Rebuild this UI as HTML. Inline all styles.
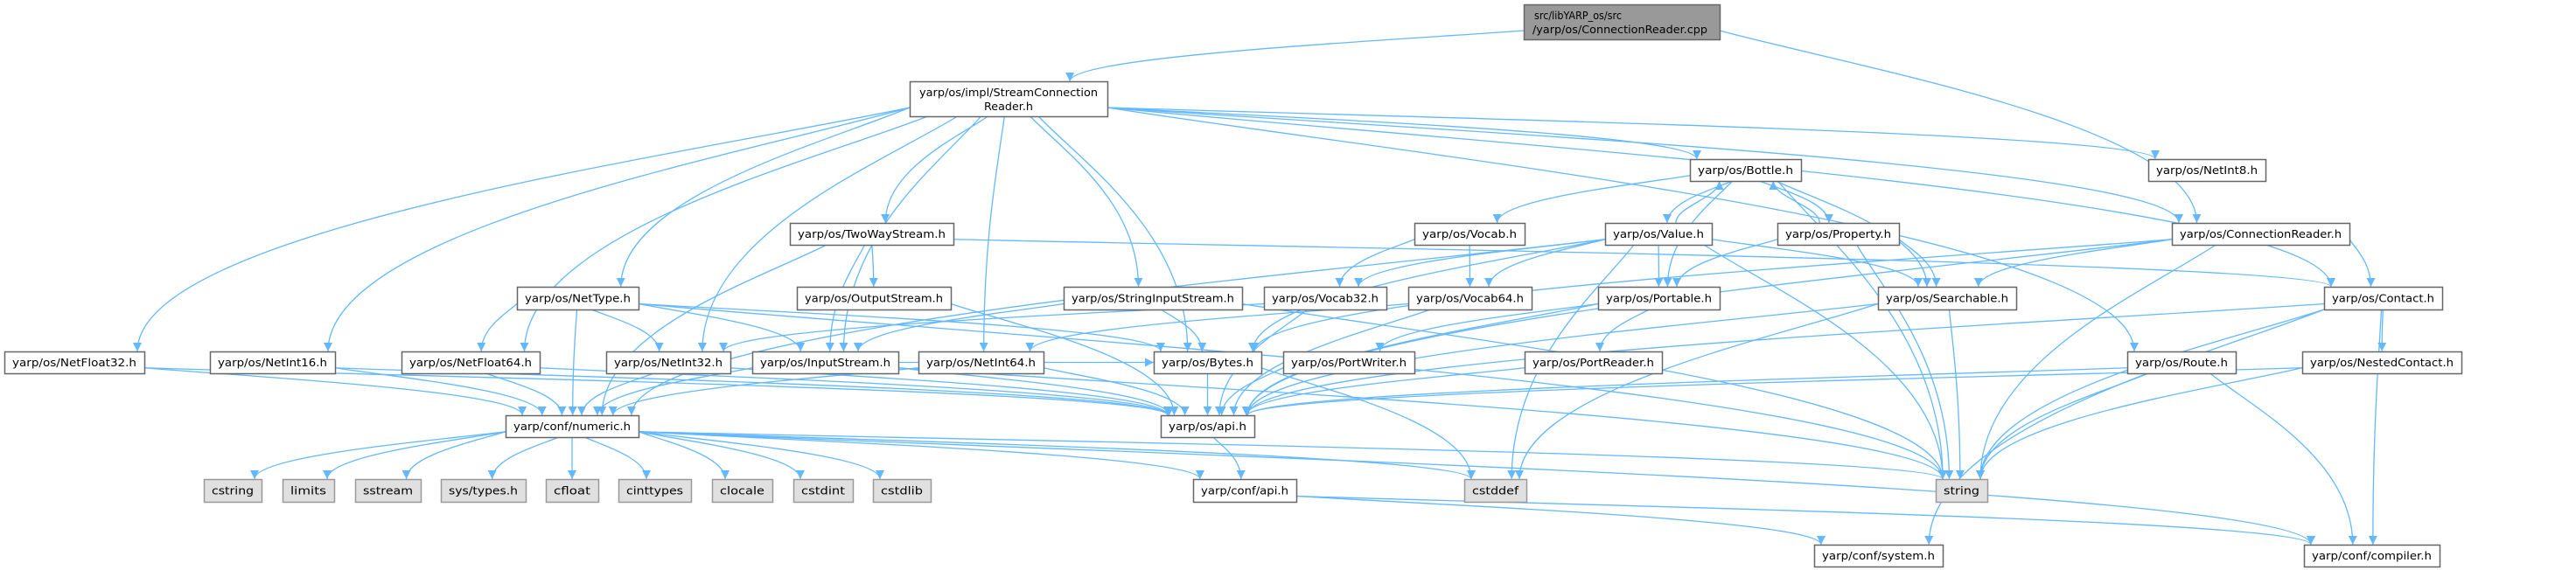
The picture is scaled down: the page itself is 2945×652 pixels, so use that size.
<!DOCTYPE html>
<html><head><meta charset="utf-8">
<style>
html,body{margin:0;padding:0;background:#fff;}
svg{display:block;}
text{font-family:"DejaVu Sans","Liberation Sans",sans-serif;font-size:12px;fill:#000;}
</style></head>
<body>
<svg id="g" width="2945" height="652" viewBox="0 0 2945 652" xmlns="http://www.w3.org/2000/svg">
<defs>
<marker id="ar" viewBox="0 0 10 10" refX="10" refY="5" markerWidth="11" markerHeight="10" markerUnits="userSpaceOnUse" orient="auto">
<path d="M0,0 L10,5 L0,10 z" fill="#63b8ff"/>
</marker>
</defs>
<g id="edges" fill="none" stroke="#63b8ff" stroke-width="1.3"></g>
<g id="nodes"></g>
</svg>
<script>
var N={
root:[1742,5,1966,45,'r',['src/libYARP_os/src','/yarp/os/ConnectionReader.cpp']],
scr:[1040,93,1266,133,'w',['yarp/os/impl/StreamConnection','Reader.h']],
bottle:[1932,182,2059,207,'w',['yarp/os/Bottle.h']],
netint8:[2456,182,2590,207,'w',['yarp/os/NetInt8.h']],
two:[903,255,1090,280,'w',['yarp/os/TwoWayStream.h']],
vocab:[1617,255,1743,280,'w',['yarp/os/Vocab.h']],
value:[1835,255,1957,280,'w',['yarp/os/Value.h']],
prop:[2032,255,2171,280,'w',['yarp/os/Property.h']],
cr:[2483,255,2686,280,'w',['yarp/os/ConnectionReader.h']],
nettype:[591,328,730,354,'w',['yarp/os/NetType.h']],
out:[911,328,1087,354,'w',['yarp/os/OutputStream.h']],
sis:[1216,328,1420,354,'w',['yarp/os/StringInputStream.h']],
v32:[1445,328,1585,354,'w',['yarp/os/Vocab32.h']],
v64:[1610,328,1751,354,'w',['yarp/os/Vocab64.h']],
portable:[1827,328,1966,354,'w',['yarp/os/Portable.h']],
search:[2147,328,2305,354,'w',['yarp/os/Searchable.h']],
contact:[2657,328,2792,354,'w',['yarp/os/Contact.h']],
nf32:[5,402,165,427,'w',['yarp/os/NetFloat32.h']],
ni16:[240,402,383,427,'w',['yarp/os/NetInt16.h']],
nf64:[459,402,617,427,'w',['yarp/os/NetFloat64.h']],
ni32:[693,402,835,427,'w',['yarp/os/NetInt32.h']],
ins:[860,402,1027,427,'w',['yarp/os/InputStream.h']],
ni64:[1050,402,1193,427,'w',['yarp/os/NetInt64.h']],
bytes:[1319,402,1442,427,'w',['yarp/os/Bytes.h']],
pw:[1467,402,1617,427,'w',['yarp/os/PortWriter.h']],
pr:[1743,402,1900,427,'w',['yarp/os/PortReader.h']],
route:[2432,402,2556,427,'w',['yarp/os/Route.h']],
nested:[2632,402,2814,427,'w',['yarp/os/NestedContact.h']],
numeric:[578,475,730,500,'w',['yarp/conf/numeric.h']],
api:[1327,475,1434,500,'w',['yarp/os/api.h']],
cstring:[233,548,299,574,'g',['cstring']],
limits:[323,548,382,574,'g',['limits']],
sstream:[406,548,481,574,'g',['sstream']],
systypes:[504,548,601,574,'g',['sys/types.h']],
cfloat:[624,548,684,574,'g',['cfloat']],
cinttypes:[707,548,790,574,'g',['cinttypes']],
clocale:[814,548,883,574,'g',['clocale']],
cstdint:[907,548,975,574,'g',['cstdint']],
cstdlib:[998,548,1064,574,'g',['cstdlib']],
confapi:[1364,548,1482,574,'w',['yarp/conf/api.h']],
cstddef:[1674,548,1745,574,'g',['cstddef']],
string:[2213,548,2272,574,'g',['string']],
system:[2074,623,2221,648,'w',['yarp/conf/system.h']],
compiler:[2634,623,2789,648,'w',['yarp/conf/compiler.h']]
};
var E=[
['root','scr'],['root','cr'],
['scr','nf32'],['scr','ni16'],['scr','nf64'],['scr','nettype'],['scr','ni32'],['scr','ins'],['scr','two'],['scr','sis'],['scr','bytes'],['scr','bottle'],['scr','netint8'],['scr','cr'],['scr','contact'],['scr','route'],['scr','ni64'],
['bottle','vocab'],['bottle','value'],['bottle','prop'],['bottle','portable'],['bottle','search'],['bottle','string'],
['value','bottle'],['value','v32'],['value','v64'],['value','portable'],['value','search'],['value','string'],['value','cstddef'],['value','bytes'],['value','numeric'],
['prop','bottle'],['prop','search'],['prop','portable'],['prop','string'],
['vocab','v32'],['vocab','v64'],
['cr','search'],['cr','contact'],['cr','api'],['cr','string'],['cr','bytes'],
['two','ins'],['two','out'],['two','contact'],['two','numeric'],
['nettype','nf64'],['nettype','ni32'],['nettype','ins'],['nettype','bytes'],['nettype','numeric'],['nettype','string'],
['out','api'],
['sis','ins'],['sis','bytes'],['sis','string'],
['v32','ni32'],['v32','api'],['v64','ni64'],['v64','api'],
['portable','pr'],['portable','pw'],['portable','api'],
['search','api'],['search','string'],['search','cstddef'],
['contact','nested'],['contact','string'],['contact','compiler'],['contact','system'],['contact','api'],
['nf32','numeric'],['nf32','api'],['ni16','numeric'],['ni16','api'],['nf64','numeric'],['nf64','api'],['ni32','numeric'],['ni32','api'],['ni64','numeric'],['ni64','api'],
['ins','bytes'],['ins','numeric'],['ins','api'],['ins','string'],
['bytes','api'],['bytes','cstddef'],['pw','api'],['pr','api'],
['route','api'],['route','string'],['route','compiler'],
['nested','api'],['nested','string'],
['numeric','cstring'],['numeric','limits'],['numeric','sstream'],['numeric','systypes'],['numeric','cfloat'],['numeric','cinttypes'],['numeric','clocale'],['numeric','cstdint'],['numeric','cstdlib'],['numeric','cstddef'],['numeric','string'],['numeric','confapi'],['numeric','compiler'],
['api','confapi'],['confapi','system'],['confapi','compiler']
];
var ns='http://www.w3.org/2000/svg';
var eg=document.getElementById('edges'),ng=document.getElementById('nodes');
function el(t,a,p){var e=document.createElementNS(ns,t);for(var k in a)e.setAttribute(k,a[k]);p.appendChild(e);return e;}
E.forEach(function(e){
 var s=N[e[0]],t=N[e[1]];
 var scx=(s[0]+s[2])/2,tcx=(t[0]+t[2])/2,d;
 var dx=Math.abs(tcx-scx);
 if(Math.abs(s[1]-t[1])<5){
  var sx,tx,y=(s[1]+s[3])/2;
  if(tcx>scx){sx=s[2];tx=t[0];}else{sx=s[0];tx=t[2];}
  d='M'+sx+','+y+' L'+tx+','+y;
 } else if(t[1]>s[1]){
  var sy=s[3],ty=t[1];
  var sx=scx+(tcx-scx)*0.15;
  if(dx>2.5*(t[1]-s[3])){sx=tcx>scx?s[2]:s[0];sy=(s[1]+s[3])/2+(s[3]-s[1])*0.25;}
  sx=Math.max(s[0],Math.min(s[2],sx));
  var tx=tcx+(scx-tcx)*0.1;tx=Math.max(t[0]+8,Math.min(t[2]-8,tx));
  var dy=ty-sy;
  d='M'+sx+','+sy+' C'+(sx+(tx-sx)*0.3)+','+(sy+dy*0.2)+' '+tx+','+(ty-dy*0.5)+' '+tx+','+ty;
 } else {
  var sx=scx+(tcx-scx)*0.2,tx=tcx+(scx-tcx)*0.3,sy=s[1],ty=t[3],dy=sy-ty;
  tx=Math.max(t[0]+8,Math.min(t[2]-8,tx));
  d='M'+sx+','+sy+' C'+sx+','+(sy-dy*0.4)+' '+tx+','+(ty+dy*0.4)+' '+tx+','+ty;
 }
 el('path',{d:d,'marker-end':'url(#ar)'},eg);
});
for(var k in N){
 var n=N[k],w=n[2]-n[0],h=n[3]-n[1];
 var fill=n[4]=='r'?'#999999':(n[4]=='g'?'#e0e0e0':'#ffffff');
 var str=n[4]=='w'||n[4]=='r'?'#666666':'#999999';
 el('rect',{x:n[0]+0.5,y:n[1]+0.5,width:w,height:h,fill:fill,stroke:str,'stroke-width':1.5},ng);
 var L=n[5];
 if(L.length==1){
  var t=el('text',{x:(n[0]+n[2])/2,y:n[1]+h/2+4.5,'text-anchor':'middle',textLength:w-18,lengthAdjust:'spacingAndGlyphs'},ng);t.textContent=L[0];
 } else if(n[4]=='r'){
  var t=el('text',{x:n[0]+12,y:n[1]+17,textLength:100,lengthAdjust:'spacingAndGlyphs'},ng);t.textContent=L[0];
  var t2=el('text',{x:n[0]+10,y:n[1]+33,textLength:200,lengthAdjust:'spacingAndGlyphs'},ng);t2.textContent=L[1];
 } else {
  var t=el('text',{x:(n[0]+n[2])/2,y:n[1]+17,'text-anchor':'middle',textLength:w-22,lengthAdjust:'spacingAndGlyphs'},ng);t.textContent=L[0];
  var t2=el('text',{x:(n[0]+n[2])/2,y:n[1]+33,'text-anchor':'middle',textLength:56,lengthAdjust:'spacingAndGlyphs'},ng);t2.textContent=L[1];
 }
}
</script>
</body></html>
